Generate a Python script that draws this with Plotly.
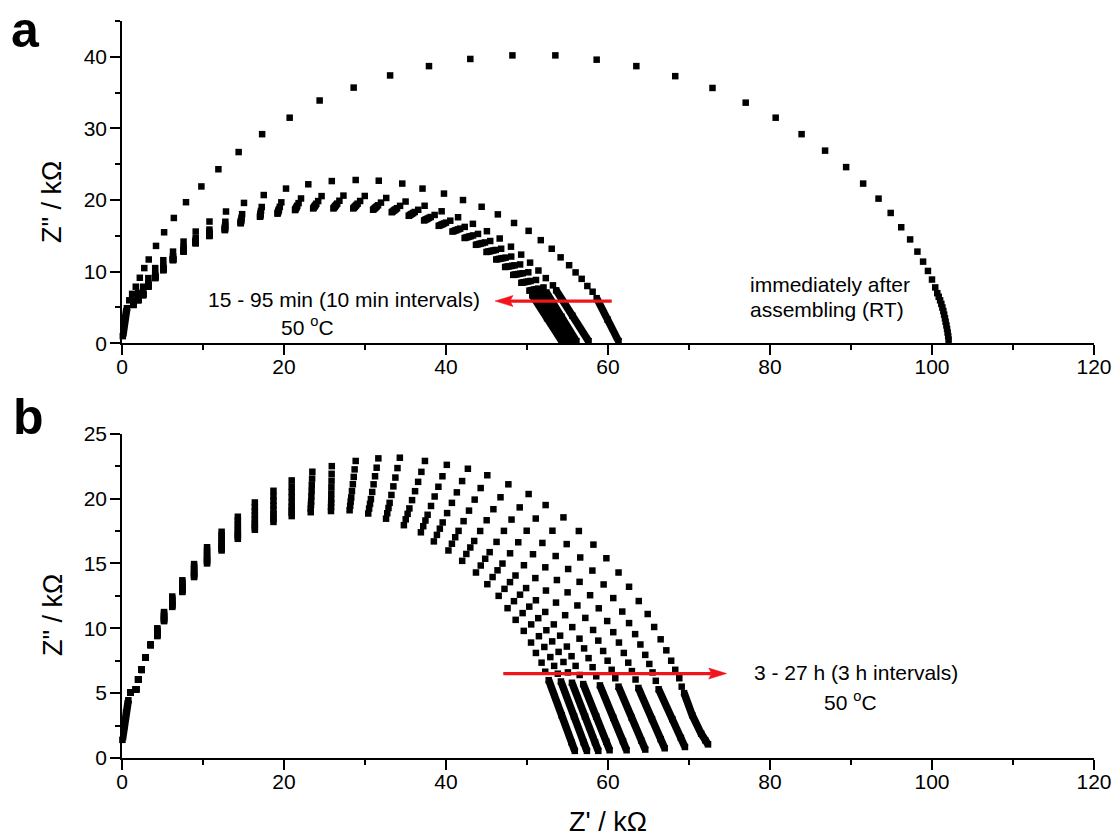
import plotly.graph_objects as go

# ---------------------------------------------------------------------------
# Panel (a): impedance spectra, Z' / kOhm (x) and Z'' / kOhm (y)
# ---------------------------------------------------------------------------

# Shared high-frequency start of every spectrum in panel (a)
a_head_x = [0.1, 0.2, 0.35, 0.6]
a_head_y = [1.0, 2.2, 3.5, 4.9]

# Room temperature, immediately after assembling
rt_x = [0.9, 1.25, 1.7, 2.2, 2.75, 3.3, 4.2, 5.2, 6.4, 7.9, 9.8, 11.9, 14.4, 17.3,
        20.7, 24.4, 28.6, 33.1, 37.9, 43.0, 48.2, 53.5, 58.6, 63.5, 68.3, 72.9,
        77.0, 80.7, 83.9, 86.8, 89.4, 91.5, 93.4, 94.9, 96.2, 97.3, 98.2, 98.9,
        99.5, 100.0, 100.4, 100.65, 100.83, 101.0, 101.15, 101.28, 101.4, 101.5,
        101.6, 101.68, 101.78, 101.86, 101.93, 102.0, 102.05]
rt_y = [6.0, 6.9, 7.9, 9.15, 10.5, 11.7, 13.6, 15.5, 17.5, 19.7, 21.9, 24.3, 26.7, 29.2,
        31.5, 33.9, 35.7, 37.4, 38.7, 39.7, 40.2, 40.2, 39.6, 38.7, 37.3, 35.65,
        33.6, 31.5, 29.2, 26.9, 24.6, 22.3, 20.2, 18.2, 16.2, 14.5, 12.8, 11.4,
        10.1, 8.9, 7.8, 7.0, 6.5, 6.0, 5.5, 5.0, 4.5, 4.0,
        3.5, 3.0, 2.5, 2.0, 1.5, 1.0, 0.5]

# 50 °C, 15 - 95 min: resolved points, then the dense low-frequency tail
a15_x = [1.4, 2.0, 2.6, 3.25, 4.1, 5.1, 6.3, 7.6, 9.1, 10.8, 12.84, 15.06, 17.5, 20.25, 23.0,
         25.9, 28.85, 31.7, 34.6, 37.1, 39.75, 42.1, 44.4, 46.4, 48.4, 50.2, 51.7, 53.05,
         54.15, 55.2, 56.0, 56.75, 57.45, 58.1]
a15_y = [6.0, 7.0, 7.9, 9.1, 10.5, 11.6, 12.8, 14.2, 15.6, 17.0, 18.4, 19.6, 20.7, 21.6, 22.2,
         22.65, 22.8, 22.7, 22.3, 21.6, 20.9, 20.0, 19.06, 18.0, 16.8, 15.7, 14.4, 13.2,
         12.0, 10.9, 9.9, 9.0, 8.0, 7.2]
a15_tx = [58.6, 59.95, 61.3]
a15_ty = [6.3, 3.3, 0.3]

a25_x = [1.4, 2.0, 2.6, 3.25, 4.1, 5.1, 6.3, 7.6, 9.1, 10.79, 12.76, 14.83, 17.25, 19.67, 22.1,
         24.64, 27.34, 29.97, 32.62, 35.01, 37.36, 39.46, 41.49, 43.32, 45.05, 46.63, 48.02,
         49.28, 50.38, 51.41, 52.32, 53.2]
a25_y = [5.64, 6.45, 7.24, 8.44, 9.73, 10.83, 12.14, 13.43, 14.69, 15.88, 16.97, 18.03, 19.03,
         19.68, 20.22, 20.55, 20.62, 20.57, 20.29, 19.79, 19.2, 18.43, 17.6, 16.68, 15.65,
         14.63, 13.49, 12.38, 11.26, 10.16, 9.1, 8.09]
a25_tx = [53.6, 55.6, 57.6]
a25_ty = [7.4, 3.85, 0.3]

a35_x = [1.4, 2.0, 2.6, 3.25, 4.1, 5.1, 6.3, 7.6, 9.1, 10.79, 12.74, 14.76, 17.16, 19.48, 21.8,
         24.22, 26.84, 29.4, 31.97, 34.33, 36.57, 38.6, 40.53, 42.31, 43.95, 45.46, 46.81,
         48.05, 49.15, 50.16, 51.11, 52.04]
a35_y = [5.53, 6.27, 7.02, 8.22, 9.48, 10.58, 11.92, 13.18, 14.4, 15.52, 16.5, 17.52, 18.49,
         19.05, 19.57, 19.86, 19.9, 19.87, 19.64, 19.19, 18.64, 17.92, 17.12, 16.25, 15.27,
         14.28, 13.2, 12.11, 11.01, 9.91, 8.84, 7.8]
a35_tx = [52.4, 54.25, 56.1]
a35_ty = [7.1, 3.7, 0.3]

a45_x = [1.4, 2.0, 2.6, 3.25, 4.1, 5.1, 6.3, 7.6, 9.1, 10.78, 12.72, 14.72, 17.12, 19.38, 21.64,
         23.99, 26.57, 29.09, 31.61, 33.95, 36.14, 38.12, 40.0, 41.75, 43.34, 44.81, 46.14,
         47.36, 48.46, 49.47, 50.44, 51.4]
a45_y = [5.46, 6.17, 6.9, 8.1, 9.34, 10.44, 11.8, 13.04, 14.23, 15.32, 16.24, 17.23, 18.19,
         18.7, 19.21, 19.48, 19.5, 19.49, 19.27, 18.86, 18.33, 17.63, 16.85, 16.01, 15.06,
         14.08, 13.03, 11.96, 10.88, 9.78, 8.7, 7.63]
a45_tx = [51.75, 53.58, 55.4]
a45_ty = [7.0, 3.65, 0.3]

a55_x = [1.4, 2.0, 2.6, 3.25, 4.1, 5.1, 6.3, 7.6, 9.1, 10.78, 12.72, 14.7, 17.1, 19.33, 21.57,
         23.89, 26.44, 28.94, 31.45, 33.78, 35.94, 37.9, 39.76, 41.5, 43.06, 44.51, 45.84,
         47.06, 48.16, 49.16, 50.14, 51.11]
a55_y = [5.43, 6.13, 6.85, 8.05, 9.28, 10.38, 11.75, 12.98, 14.16, 15.22, 16.13, 17.11, 18.05,
         18.54, 19.05, 19.31, 19.33, 19.31, 19.11, 18.71, 18.19, 17.51, 16.73, 15.9, 14.96,
         13.99, 12.96, 11.89, 10.82, 9.72, 8.63, 7.56]
a55_tx = [51.45, 53.28, 55.1]
a55_ty = [6.9, 3.6, 0.3]

a65_x = [1.4, 2.0, 2.6, 3.25, 4.1, 5.1, 6.3, 7.6, 9.1, 10.78, 12.71, 14.69, 17.08, 19.29, 21.51,
         23.81, 26.35, 28.83, 31.32, 33.64, 35.79, 37.73, 39.58, 41.3, 42.85, 44.29, 45.6,
         46.82, 47.92, 48.92, 49.9, 50.88]
a65_y = [5.41, 6.09, 6.81, 8.01, 9.23, 10.33, 11.71, 12.93, 14.1, 15.15, 16.03, 17.01, 17.94,
         18.42, 18.92, 19.17, 19.19, 19.18, 18.98, 18.6, 18.08, 17.41, 16.64, 15.82, 14.89,
         13.93, 12.9, 11.84, 10.77, 9.67, 8.58, 7.5]
a65_tx = [51.2, 53.05, 54.9]
a65_ty = [6.85, 3.58, 0.3]

a75_x = [1.4, 2.0, 2.6, 3.25, 4.1, 5.1, 6.3, 7.6, 9.1, 10.78, 12.71, 14.67, 17.07, 19.26, 21.46,
         23.74, 26.27, 28.74, 31.22, 33.53, 35.66, 37.59, 39.42, 41.14, 42.67, 44.09, 45.4,
         46.61, 47.71, 48.71, 49.7, 50.69]
a75_y = [5.39, 6.06, 6.77, 7.97, 9.18, 10.28, 11.67, 12.88, 14.05, 15.09, 15.96, 16.92, 17.85,
         18.31, 18.82, 19.06, 19.07, 19.06, 18.87, 18.5, 17.99, 17.32, 16.56, 15.74, 14.83,
         13.87, 12.85, 11.79, 10.73, 9.63, 8.54, 7.45]
a75_tx = [51.0, 52.85, 54.7]
a75_ty = [6.8, 3.55, 0.3]

a85_x = [1.4, 2.0, 2.6, 3.25, 4.1, 5.1, 6.3, 7.6, 9.1, 10.78, 12.7, 14.66, 17.05, 19.23, 21.41,
         23.67, 26.18, 28.64, 31.11, 33.41, 35.53, 37.44, 39.26, 40.97, 42.48, 43.9, 45.2,
         46.41, 47.51, 48.51, 49.5, 50.49]
a85_y = [5.37, 6.03, 6.74, 7.94, 9.14, 10.24, 11.64, 12.84, 14.0, 15.03, 15.88, 16.84, 17.76,
         18.21, 18.71, 18.94, 18.95, 18.95, 18.76, 18.4, 17.89, 17.24, 16.48, 15.67, 14.76,
         13.81, 12.8, 11.75, 10.69, 9.59, 8.49, 7.4]
a85_tx = [50.85, 52.68, 54.5]
a85_ty = [6.75, 3.53, 0.3]

a95_x = [1.4, 2.0, 2.6, 3.25, 4.1, 5.1, 6.3, 7.6, 9.1, 10.78, 12.7, 14.65, 17.04, 19.2, 21.36,
         23.6, 26.1, 28.55, 31.0, 33.3, 35.4, 37.3, 39.1, 40.8, 42.3, 43.7, 45.0, 46.2,
         47.3, 48.3, 49.3, 50.3]
a95_y = [5.35, 6.0, 6.7, 7.9, 9.1, 10.2, 11.6, 12.8, 13.95, 14.97, 15.8, 16.75, 17.67, 18.1,
         18.6, 18.83, 18.83, 18.83, 18.65, 18.3, 17.8, 17.15, 16.4, 15.6, 14.7, 13.75, 12.75,
         11.7, 10.65, 9.55, 8.45, 7.35]
a95_tx = [50.65, 52.48, 54.3]
a95_ty = [6.7, 3.5, 0.3]

# ---------------------------------------------------------------------------
# Panel (b): 50 °C, 3 - 27 h
# ---------------------------------------------------------------------------

# Shared high-frequency start of every spectrum in panel (b)
b_head_x = [0.05, 0.25, 0.5, 0.78]
b_head_y = [1.4, 2.4, 3.5, 4.45]
b_shared_x = [1.07, 1.73, 2.0, 2.43, 2.93, 3.54]
b_shared_y = [5.05, 5.3, 6.05, 6.8, 7.75, 8.72]

b03_x = [4.36, 5.19, 6.2, 7.45, 8.9, 10.5, 12.3, 14.3, 16.4, 18.7, 20.95, 23.3, 25.8, 28.1,
         30.4, 32.6, 34.8, 36.9, 38.5, 40.3, 42.0, 43.7, 45.1, 46.5, 47.6, 48.6, 49.6, 50.5,
         51.1, 51.8, 52.25]
b03_y = [9.4, 10.55, 11.65, 12.8, 13.95, 15.0, 16.0, 16.9, 17.6, 18.2, 18.65, 18.95, 19.04,
         19.1, 18.85, 18.45, 17.95, 17.4, 16.7, 16.0, 15.2, 14.3, 13.4, 12.5, 11.55, 10.65,
         9.8, 8.9, 8.1, 7.35, 6.65]
b03_tx = [52.68, 54.27, 55.5, 55.9]
b03_ty = [6.0, 3.3, 1.2, 0.55]

b06_x = [4.36, 5.19, 6.2, 7.45, 8.9, 10.5, 12.3, 14.3, 16.4, 18.7, 20.95, 23.3, 25.81, 28.17,
         30.51, 32.75, 35.03, 37.19, 38.88, 40.73, 42.51, 44.29, 45.75, 47.22, 48.39, 49.46,
         50.52, 51.47, 52.14, 52.88, 53.35, 53.8]
b06_y = [9.45, 10.61, 11.72, 12.88, 14.04, 15.11, 16.13, 17.05, 17.79, 18.42, 18.9, 19.23,
         19.35, 19.44, 19.23, 18.87, 18.4, 17.87, 17.2, 16.52, 15.73, 14.84, 13.95, 13.04,
         12.09, 11.17, 10.3, 9.39, 8.56, 7.78, 7.1, 6.5]
b06_tx = [54.19, 55.81, 57.0, 57.4]
b06_ty = [5.9, 3.2, 1.2, 0.55]

b09_x = [4.36, 5.19, 6.2, 7.45, 8.9, 10.5, 12.3, 14.3, 16.4, 18.7, 20.95, 23.33, 25.82, 28.23,
         30.62, 32.9, 35.26, 37.46, 39.24, 41.14, 43.0, 44.84, 46.36, 47.9, 49.14, 50.28,
         51.39, 52.39, 53.11, 53.9, 54.5, 55.05]
b09_y = [9.5, 10.67, 11.79, 12.96, 14.13, 15.22, 16.25, 17.2, 17.97, 18.62, 19.13, 19.5,
         19.65, 19.77, 19.59, 19.27, 18.82, 18.31, 17.68, 17.02, 16.23, 15.36, 14.47, 13.56,
         12.59, 11.67, 10.78, 9.85, 8.99, 8.18, 7.4, 6.6]
b09_tx = [55.55, 57.16, 58.4, 58.8]
b09_ty = [5.8, 3.2, 1.2, 0.55]

b12_x = [4.36, 5.19, 6.2, 7.45, 8.9, 10.5, 12.3, 14.3, 16.4, 18.7, 20.95, 23.35, 25.83, 28.3,
         30.73, 33.04, 35.48, 37.73, 39.59, 41.55, 43.48, 45.39, 46.97, 48.58, 49.89, 51.1,
         52.25, 53.31, 54.09, 54.92, 55.5, 56.0, 56.5]
b12_y = [9.55, 10.73, 11.86, 13.03, 14.21, 15.33, 16.37, 17.34, 18.15, 18.82, 19.37, 19.76,
         19.94, 20.09, 19.96, 19.67, 19.24, 18.75, 18.16, 17.51, 16.73, 15.87, 14.99, 14.07,
         13.1, 12.16, 11.26, 10.3, 9.43, 8.59, 7.85, 7.1, 6.4]
b12_tx = [56.94, 58.54, 59.8, 60.2]
b12_ty = [5.7, 3.2, 1.25, 0.6]

b15_x = [4.36, 5.19, 6.2, 7.45, 8.9, 10.5, 12.3, 14.3, 16.4, 18.7, 20.95, 23.38, 25.84, 28.39,
         30.89, 33.26, 35.81, 38.15, 40.14, 42.17, 44.22, 46.24, 47.91, 49.62, 51.03, 52.34,
         53.58, 54.71, 55.59, 56.48, 57.05, 57.6, 58.1, 58.55]
b15_y = [9.63, 10.82, 11.96, 13.15, 14.34, 15.49, 16.56, 17.56, 18.42, 19.14, 19.72, 20.17,
         20.39, 20.58, 20.51, 20.28, 19.88, 19.43, 18.88, 18.26, 17.5, 16.66, 15.78, 14.86,
         13.87, 12.91, 11.98, 11.01, 10.09, 9.2, 8.45, 7.7, 7.0, 6.3]
b15_tx = [59.0, 60.65, 61.85, 62.3]
b15_ty = [5.6, 3.1, 1.3, 0.6]

b18_x = [4.36, 5.19, 6.2, 7.45, 8.9, 10.5, 12.3, 14.3, 16.4, 18.7, 20.95, 23.41, 25.85, 28.5,
         31.06, 33.5, 36.18, 38.6, 40.73, 42.84, 45.02, 47.15, 48.92, 50.74, 52.26, 53.69,
         55.01, 56.22, 57.2, 58.16, 58.8, 59.4, 59.95, 60.45, 60.9]
b18_y = [9.72, 10.92, 12.07, 13.28, 14.48, 15.66, 16.76, 17.8, 18.71, 19.47, 20.11, 20.6,
         20.87, 21.11, 21.1, 20.94, 20.57, 20.16, 19.67, 19.07, 18.33, 17.51, 16.63, 15.71,
         14.7, 13.72, 12.77, 11.76, 10.8, 9.87, 9.05, 8.25, 7.5, 6.8, 6.15]
b18_tx = [61.3, 62.93, 64.1, 64.6]
b18_ty = [5.5, 3.1, 1.35, 0.65]

b21_x = [4.36, 5.19, 6.2, 7.45, 8.9, 10.5, 12.3, 14.3, 16.4, 18.7, 20.95, 23.43, 25.87, 28.61,
         31.24, 33.75, 36.56, 39.06, 41.34, 43.54, 45.85, 48.09, 49.96, 51.9, 53.54, 55.08,
         56.49, 57.79, 58.86, 59.9, 60.65, 61.35, 61.95, 62.5, 62.95, 63.4]
b21_y = [9.8, 11.02, 12.19, 13.41, 14.63, 15.84, 16.97, 18.05, 19.02, 19.82, 20.51, 21.06,
         21.38, 21.67, 21.72, 21.62, 21.29, 20.91, 20.48, 19.92, 19.18, 18.38, 17.52, 16.58,
         15.57, 14.57, 13.58, 12.55, 11.54, 10.56, 9.7, 8.9, 8.1, 7.35, 6.7, 6.05]
b21_tx = [63.75, 65.43, 66.5, 67.0]
b21_ty = [5.4, 3.0, 1.45, 0.75]

b24_x = [4.36, 5.19, 6.2, 7.45, 8.9, 10.5, 12.3, 14.3, 16.4, 18.7, 20.95, 23.47, 25.88, 28.72,
         31.44, 34.01, 36.96, 39.56, 41.99, 44.28, 46.73, 49.1, 51.08, 53.14, 54.9, 56.57,
         58.07, 59.46, 60.65, 61.76, 62.6, 63.35, 64.0, 64.6, 65.1, 65.5, 65.9]
b24_y = [9.9, 11.13, 12.31, 13.55, 14.78, 16.04, 17.2, 18.31, 19.34, 20.19, 20.93, 21.54,
         21.91, 22.25, 22.38, 22.35, 22.06, 21.72, 21.35, 20.81, 20.1, 19.32, 18.46, 17.52,
         16.49, 15.46, 14.45, 13.38, 12.33, 11.29, 10.4, 9.55, 8.75, 7.95, 7.25, 6.6, 5.95]
b24_tx = [66.25, 67.93, 69.0, 69.5]
b24_ty = [5.3, 3.0, 1.55, 0.85]

b27_x = [4.36, 5.19, 6.2, 7.45, 8.9, 10.5, 12.3, 14.3, 16.4, 18.7, 20.95, 23.5, 25.9, 28.85,
         31.65, 34.3, 37.4, 40.1, 42.7, 45.1, 47.7, 50.2, 52.3, 54.5, 56.4, 58.2, 59.8, 61.3,
         62.6, 63.8, 64.9, 65.7, 66.5, 67.2, 67.8, 68.3, 68.8, 69.1]
b27_y = [10.0, 11.25, 12.45, 13.7, 14.95, 16.25, 17.44, 18.6, 19.7, 20.6, 21.4, 22.07, 22.5,
         22.9, 23.1, 23.15, 22.9, 22.6, 22.3, 21.8, 21.1, 20.35, 19.5, 18.55, 17.5, 16.45,
         15.4, 14.3, 13.2, 12.1, 11.1, 10.1, 9.15, 8.3, 7.5, 6.8, 6.15, 5.5]
b27_tx = [69.4, 70.4, 71.5, 72.0, 72.35]
b27_ty = [5.0, 3.3, 1.88, 1.37, 1.05]

# Red trend arrows (tail x, head x, height) in each panel's data units
a_arrow = (60.46, 46.05, 5.9)
b_arrow = (47.07, 74.65, 6.51)

# ---------------------------------------------------------------------------
# Figure
# ---------------------------------------------------------------------------
W, H = 1117, 839
ML, MR, MT, MB = 122, 23, 21, 81
PW, PH = W - ML - MR, H - MT - MB

FONT = "Liberation Sans, Arial, Helvetica, sans-serif"
MARK = dict(symbol="square", size=6.5, color="black", line=dict(width=0))
RED = "#f2141c"

fig = go.Figure()


def add_points(x, y, xa, ya):
    fig.add_trace(go.Scatter(x=x, y=y, mode="markers", marker=MARK,
                             xaxis=xa, yaxis=ya, cliponaxis=False, hoverinfo="skip"))


def add_tail(x, y, xa, ya):
    # dense low-frequency run, drawn as a continuous stroke of squares
    fig.add_trace(go.Scatter(x=x, y=y, mode="lines+markers", marker=MARK,
                             line=dict(color="black", width=7.5),
                             xaxis=xa, yaxis=ya, cliponaxis=False, hoverinfo="skip"))


# panel (a)
add_tail(a_head_x, a_head_y, "x2", "y2")
add_points(rt_x, rt_y, "x2", "y2")
for px_, py_, tx_, ty_ in [
    (a15_x, a15_y, a15_tx, a15_ty), (a25_x, a25_y, a25_tx, a25_ty),
    (a35_x, a35_y, a35_tx, a35_ty), (a45_x, a45_y, a45_tx, a45_ty),
    (a55_x, a55_y, a55_tx, a55_ty), (a65_x, a65_y, a65_tx, a65_ty),
    (a75_x, a75_y, a75_tx, a75_ty), (a85_x, a85_y, a85_tx, a85_ty),
    (a95_x, a95_y, a95_tx, a95_ty),
]:
    add_points(px_, py_, "x2", "y2")
    add_tail(tx_, ty_, "x2", "y2")

# panel (b)
add_tail(b_head_x, b_head_y, "x", "y")
for px_, py_, tx_, ty_ in [
    (b03_x, b03_y, b03_tx, b03_ty), (b06_x, b06_y, b06_tx, b06_ty),
    (b09_x, b09_y, b09_tx, b09_ty), (b12_x, b12_y, b12_tx, b12_ty),
    (b15_x, b15_y, b15_tx, b15_ty), (b18_x, b18_y, b18_tx, b18_ty),
    (b21_x, b21_y, b21_tx, b21_ty), (b24_x, b24_y, b24_tx, b24_ty),
    (b27_x, b27_y, b27_tx, b27_ty),
]:
    add_points(b_shared_x + px_, b_shared_y + py_, "x", "y")
    add_tail(tx_, ty_, "x", "y")

axis_style = dict(
    showline=True, linecolor="black", linewidth=1.6,
    ticks="outside", ticklen=10, tickwidth=1.6, tickcolor="black",
    showgrid=False, zeroline=False, mirror=False, automargin=False,
    tickfont=dict(family=FONT, size=21, color="black"),
)

x_style = dict(axis_style, range=[0, 120], tick0=0, dtick=20, ticklabelstandoff=-6,
               minor=dict(ticks="outside", ticklen=5, tickwidth=1.6, tickcolor="black",
                          tick0=0, dtick=10, showgrid=False))

fig.update_layout(
    width=W, height=H,
    margin=dict(l=ML, r=MR, t=MT, b=MB, pad=0, autoexpand=False),
    paper_bgcolor="white", plot_bgcolor="white",
    showlegend=False, hovermode=False,
    font=dict(family=FONT, size=21, color="black"),
    xaxis=dict(x_style, anchor="y", domain=[0, 1],
               title=dict(text="Z' / kΩ", font=dict(family=FONT, size=27, color="black"),
                          standoff=20)),
    yaxis=dict(axis_style, anchor="x", domain=[0, 0.44], range=[0, 25], tick0=0, dtick=5,
               ticklabelstandoff=-1,
               minor=dict(ticks="outside", ticklen=5, tickwidth=1.6, tickcolor="black",
                          tick0=0, dtick=2.5, showgrid=False)),
    xaxis2=dict(x_style, anchor="y2", domain=[0, 1]),
    yaxis2=dict(axis_style, anchor="x2", domain=[0.5627, 1], range=[0, 45], tick0=0, dtick=10,
                ticklabelstandoff=-1,
                minor=dict(ticks="outside", ticklen=5, tickwidth=1.6, tickcolor="black",
                           tick0=0, dtick=5, showgrid=False)),
)


def px_to_paper(px, py):
    return (px - ML) / PW, (H - MB - py) / PH


def text_at(px, py, text, size=21, anchor="center", angle=0):
    x, y = px_to_paper(px, py)
    fig.add_annotation(x=x, y=y, xref="paper", yref="paper", text=text, showarrow=False,
                       xanchor=anchor, yanchor="middle", textangle=angle,
                       font=dict(family=FONT, size=size, color="black"))


# panel letters
text_at(25, 29.5, "<b>a</b>", size=50)
text_at(28, 417, "<b>b</b>", size=50)

# y-axis titles
text_at(52, 202, "Z\" / kΩ", size=27, angle=-90)
text_at(53, 615, "Z\" / kΩ", size=27, angle=-90)

# panel (a) labels
fig.add_annotation(x=27.4, y=6.18, xref="x2", yref="y2", text="15 - 95 min (10 min intervals)",
                   showarrow=False, font=dict(family=FONT, size=21, color="black"))
fig.add_annotation(x=22.96, y=2.41, xref="x2", yref="y2", text="50 <sup>o</sup>C",
                   showarrow=False, font=dict(family=FONT, size=21, color="black"))
fig.add_annotation(x=77.25, y=8.18, xref="x2", yref="y2", text="immediately after",
                   xanchor="left", showarrow=False, font=dict(family=FONT, size=21, color="black"))
fig.add_annotation(x=77.25, y=4.69, xref="x2", yref="y2", text="assembling (RT)",
                   xanchor="left", showarrow=False, font=dict(family=FONT, size=21, color="black"))

# panel (b) labels
fig.add_annotation(x=90.6, y=6.56, xref="x", yref="y", text="3 - 27 h (3 h intervals)",
                   showarrow=False, font=dict(family=FONT, size=21, color="black"))
fig.add_annotation(x=89.9, y=4.42, xref="x", yref="y", text="50 <sup>o</sup>C",
                   showarrow=False, font=dict(family=FONT, size=21, color="black"))


def add_arrow(arrow, xref, yref, unit_x, unit_y):
    """Red arrow: shaft plus a filled head; unit_x/unit_y are px per data unit."""
    x0, x1, yv = arrow
    direction = 1 if x1 > x0 else -1
    head_len = 18.0 / unit_x
    notch = 3.0 / unit_x
    half_w = 5.5 / unit_y
    back = x1 - direction * head_len
    fig.add_shape(type="line", xref=xref, yref=yref, x0=x0, x1=back + direction * notch,
                  y0=yv, y1=yv, line=dict(color=RED, width=3.2))
    path = (f"M {x1},{yv} L {back},{yv + half_w} L {back + direction * notch},{yv} "
            f"L {back},{yv - half_w} Z")
    fig.add_shape(type="path", xref=xref, yref=yref, path=path,
                  fillcolor=RED, line=dict(color=RED, width=0.5))


add_arrow(a_arrow, "x2", "y2", PW / 120, (PH * (1 - 0.5627)) / 45)
add_arrow(b_arrow, "x", "y", PW / 120, (PH * 0.44) / 25)

fig.write_html("out.html")
